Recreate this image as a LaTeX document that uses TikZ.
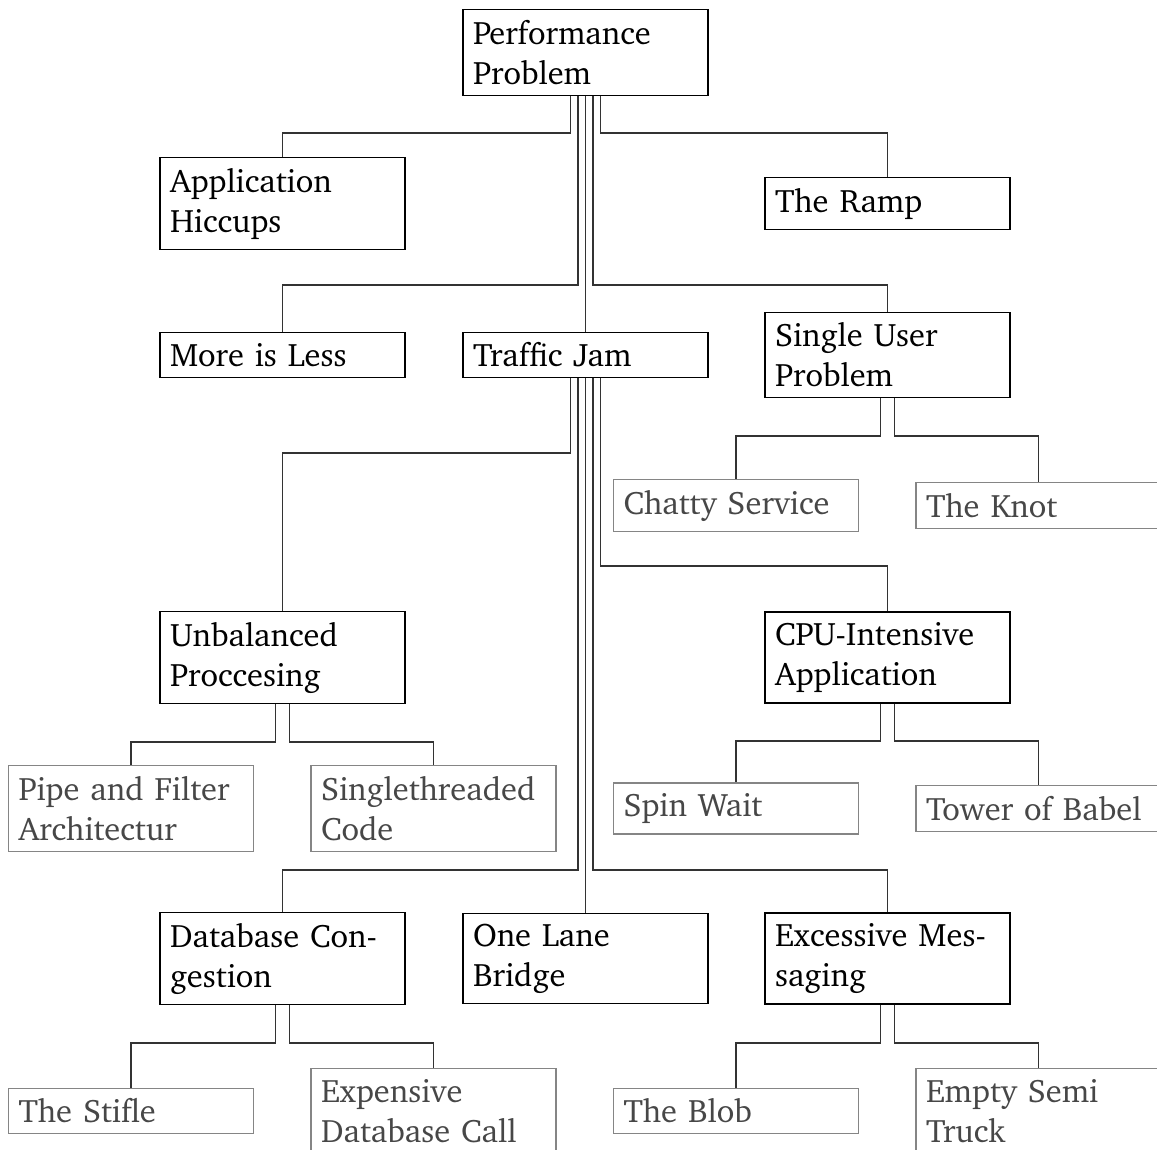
\documentclass[tikz,border=0pt]{standalone}
\usepackage[T1]{fontenc}
\usepackage{charter}
\definecolor{linec}{HTML}{333333}
\definecolor{leaftext}{HTML}{474747}
\definecolor{leafborder}{HTML}{858585}
\tikzset{
  box/.style={draw=black, line width=1.2pt, rectangle, text width=225pt, align=left,
    inner xsep=10pt, inner ysep=10.5pt, font=\fontsize{32.5}{40}\selectfont, text=black},
  leaf/.style={box, draw=leafborder, text=leaftext},
  conn/.style={draw=linec, line width=1.2pt}
}
\begin{document}
\begin{tikzpicture}[x=1pt,y=-1pt]
\clip (0,0) rectangle (1157,1149);
\fill[white] (0,0) rectangle (1157,1149);
% nodes
\node[box]  (perf)      at (585.5,52.5)  {Performance\\Problem};
\node[box]  (app)       at (282.5,203.5) {Application\\Hiccups};
\node[box]  (ramp)      at (887.5,203.5) {The Ramp};
\node[box]  (more)      at (282.5,355)   {More is Less};
\node[box]  (traffic)   at (585.5,355)   {Traffic Jam};
\node[box]  (single)    at (887.5,355)   {Single User\\Problem};
\node[leaf] (chatty)    at (736,505.5)   {Chatty Service};
\node[leaf] (knot)      at (1038.5,505.5){The Knot};
\node[box]  (unbal)     at (282.5,657.5) {Unbalanced\\Proccesing};
\node[box]  (cpu)       at (887.5,657.5) {CPU-Intensive\\Application};
\node[leaf] (pipe)      at (131,808.5)   {Pipe and Filter\\Architectur};
\node[leaf] (sthread)   at (433.5,808.5) {Singlethreaded\\Code};
\node[leaf] (spin)      at (736,808.5)   {Spin Wait};
\node[leaf] (tower)     at (1038.5,808.5){Tower of Babel};
\node[box]  (db)        at (282.5,958.5) {Database Con-\\gestion};
\node[box]  (onelane)   at (585.5,958.5) {One Lane\\Bridge};
\node[box]  (excess)    at (887.5,958.5) {Excessive Mes-\\saging};
\node[leaf] (stifle)    at (131,1111)    {The Stifle};
\node[leaf] (expensive) at (433.5,1111)  {Expensive\\Database Call};
\node[leaf] (blob)      at (736,1111)    {The Blob};
\node[leaf] (empty)     at (1038.5,1111) {Empty Semi\\Truck};
% horizontal levels
\coordinate (hA) at (0,133);
\coordinate (hB) at (0,285);
\coordinate (hC) at (0,453);
\coordinate (hD) at (0,566);
\coordinate (hE) at (0,870);
\coordinate (hF) at (0,436);
\coordinate (hG) at (0,742);
\coordinate (hH) at (0,741);
\coordinate (hI) at (0,1043);
% Performance Problem children
\draw[conn] ([xshift=-15pt]perf.south) |- (app.north |- hA) -- (app.north);
\draw[conn] ([xshift=-7.5pt]perf.south) |- (more.north |- hB) -- (more.north);
\draw[conn] (perf.south) -- (traffic.north);
\draw[conn] ([xshift=7.5pt]perf.south) |- (single.north |- hB) -- (single.north);
\draw[conn] ([xshift=15pt]perf.south) |- (ramp.north |- hA) -- (ramp.north);
% Traffic Jam children
\draw[conn] ([xshift=-15pt]traffic.south) |- (unbal.north |- hC) -- (unbal.north);
\draw[conn] ([xshift=-7.5pt]traffic.south) |- (db.north |- hE) -- (db.north);
\draw[conn] (traffic.south) -- (onelane.north);
\draw[conn] ([xshift=7.5pt]traffic.south) |- (excess.north |- hE) -- (excess.north);
\draw[conn] ([xshift=15pt]traffic.south) |- (cpu.north |- hD) -- (cpu.north);
% Single User children
\draw[conn] ([xshift=-7pt]single.south) |- (chatty.north |- hF) -- (chatty.north);
\draw[conn] ([xshift=7pt]single.south) |- (knot.north |- hF) -- (knot.north);
% Unbalanced children
\draw[conn] ([xshift=-7pt]unbal.south) |- (pipe.north |- hG) -- (pipe.north);
\draw[conn] ([xshift=7pt]unbal.south) |- (sthread.north |- hG) -- (sthread.north);
% CPU children
\draw[conn] ([xshift=-7pt]cpu.south) |- (spin.north |- hH) -- (spin.north);
\draw[conn] ([xshift=7pt]cpu.south) |- (tower.north |- hH) -- (tower.north);
% Database children
\draw[conn] ([xshift=-7pt]db.south) |- (stifle.north |- hI) -- (stifle.north);
\draw[conn] ([xshift=7pt]db.south) |- (expensive.north |- hI) -- (expensive.north);
% Excessive children
\draw[conn] ([xshift=-7pt]excess.south) |- (blob.north |- hI) -- (blob.north);
\draw[conn] ([xshift=7pt]excess.south) |- (empty.north |- hI) -- (empty.north);
\end{tikzpicture}
\end{document}
